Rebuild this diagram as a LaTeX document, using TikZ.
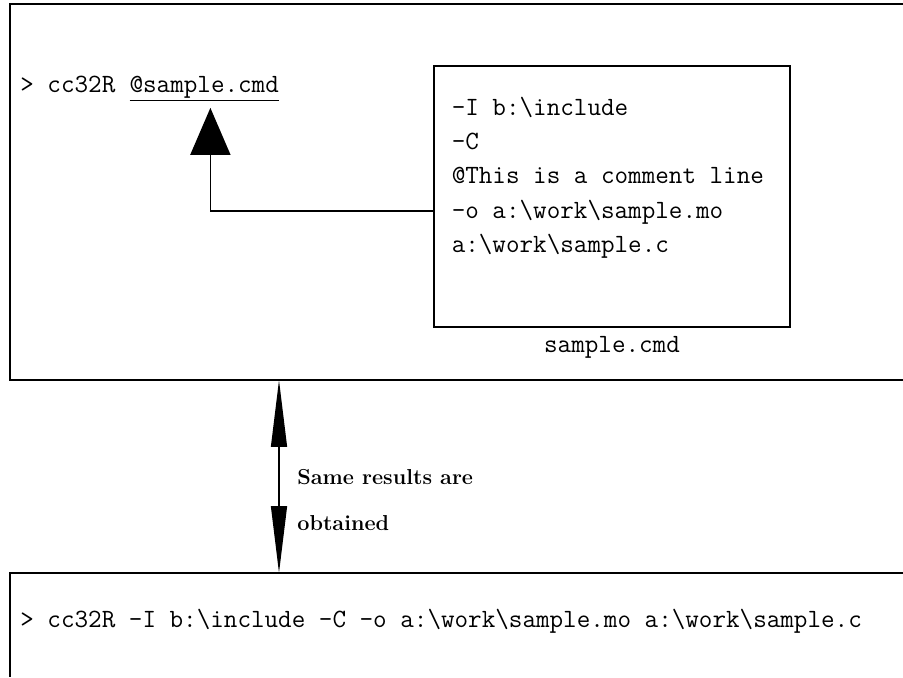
\documentclass[tikz,border=0pt]{standalone}
\usepackage{fontspec}
\usetikzlibrary{arrows.meta,positioning,calc}
\tikzset{%
    frame/.style={draw,line width=0.7pt},
    cmdbox/.style={rectangle,draw,line width=0.7pt,minimum width=7.12cm,minimum height=5.22cm,inner sep=0pt},
    mono/.style={inner sep=0pt,font=\fontsize{15}{19.6}\selectfont\ttfamily},
    note/.style={inner sep=0pt,align=left,font=\fontsize{12.3}{26.6}\selectfont\bfseries},
    bigtip/.style={-{Triangle[width=22.7pt,length=26.7pt]},line width=1pt},
    bothtip/.style={{Triangle[width=9pt,length=38pt]}-{Triangle[width=9pt,length=38pt]},line width=1pt}
}

\begin{document}
\begin{tikzpicture}[x=0.02cm,y=-0.02cm]
\useasboundingbox (0,0) rectangle (903,677);
% panels, open to the right and below
\draw[frame] (903,4) -| (10,380) -- (903,380);
\draw[frame] (903,573) -| (10,677);
% upper panel
\node[mono,anchor=base west] (prompt) at (20,92) {> cc32R};
\node[mono,base right=7.7pt of prompt] (atref) {\underline{@sample.cmd}};
\node[cmdbox] (cmdfile) at (612,196.5) {};
\node[mono,align=left,anchor=north west] (cmdlines) at ($(cmdfile.north west)+(18,31)$)
    {-I b:\textbackslash include\\
     -C\\
     @This is a comment line\\
     -o a:\textbackslash work\textbackslash sample.mo\\
     a:\textbackslash work\textbackslash sample.c};
\node[mono,below=5pt of cmdfile] (cmdname) {sample.cmd};
\draw[bigtip] ($(cmdfile.north west)!0.556!(cmdfile.south west)$) -| ([xshift=3.5pt,yshift=-3.5pt]atref.south);
% between the panels
\coordinate (upper) at (279,380);
\coordinate (lower) at (279,573);
\draw[bothtip] (upper) -- (lower);
\node[note,anchor=west] (same) at (297,500) {Same results are\\obtained};
% lower panel
\node[mono,anchor=base west] (fullcmd) at (20,627)
    {> cc32R -I b:\textbackslash include -C -o a:\textbackslash work\textbackslash sample.mo a:\textbackslash work\textbackslash sample.c};
\end{tikzpicture}
\end{document}
